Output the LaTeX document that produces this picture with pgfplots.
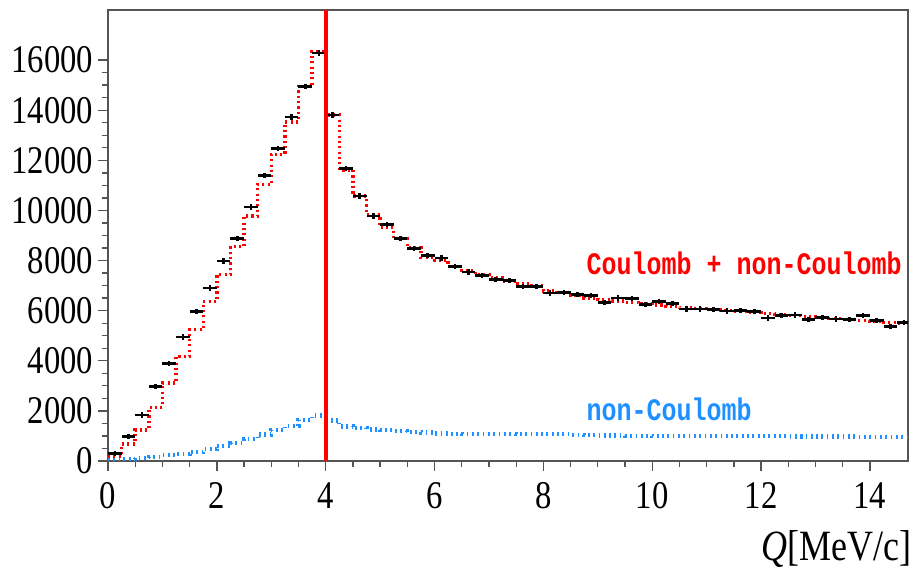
\documentclass[border=0pt]{standalone}
\usepackage{pgfplots}
\pgfplotsset{compat=1.18}
\usepackage{fontspec}
\setmainfont{Liberation Serif}
\newfontfamily\monob{Liberation Mono}
\usepackage{graphicx}
\definecolor{ncblue}{RGB}{30,144,255}
\definecolor{framegray}{RGB}{85,85,85}
\begin{document}
\begin{tikzpicture}
\path[use as bounding box] (-81pt,-81.75pt) rectangle (606pt,345.75pt);
\begin{axis}[
  at={(0,0)}, anchor=south west,
  scale only axis, width=600pt, height=338.25pt,
  xmin=0, xmax=14.7, ymin=0, ymax=18000,
  scaled y ticks=false, scaled x ticks=false,
  axis line style={framegray, line width=1.1pt},
  xtick={0,2,...,14}, ytick={0,2000,...,16000},
  minor x tick num=3, minor y tick num=3,
  tick align=outside, xtick pos=bottom, ytick pos=left,
  major tick length=7.5pt, minor tick length=4.5pt,
  tick style={framegray, line width=1pt},
  /pgf/number format/assume math mode=true,
  /pgf/number format/set thousands separator={},
  xticklabel={\scalebox{1}[1.2]{\pgfmathprintnumber{\tick}}},
  yticklabel={\scalebox{1}[1.2]{\pgfmathprintnumber{\tick}}},
  tick label style={font=\fontsize{24.5}{24.5}\selectfont},
  xticklabel style={yshift=-5pt},
]
% non-Coulomb (blue)
\addplot[ncblue, line width=3.2pt, dash pattern=on 1.3pt off 2.7pt, const plot mark left] coordinates {
(0,60) (0.25,80) (0.5,110) (0.75,170) (1.0,225) (1.25,270) (1.5,360) (1.75,465)
(2.0,600) (2.25,730) (2.5,870) (2.75,1060) (3.0,1240) (3.25,1410) (3.5,1640) (3.75,1820)
(4.0,1620) (4.25,1380) (4.5,1310) (4.75,1260) (5.0,1230) (5.25,1200) (5.5,1160) (5.75,1140)
(6.0,1100) (6.25,1085) (6.5,1080) (6.75,1080) (7.0,1080) (7.25,1080) (7.5,1075) (7.75,1075)
(8.0,1070) (8.25,1065) (8.5,1040) (8.75,1030) (9.0,1020) (9.25,1015) (9.5,1010) (9.75,1010)
(10.0,1005) (10.25,1000) (10.5,1000) (10.75,1000) (11.0,995) (11.25,995) (11.5,990) (11.75,990)
(12.0,985) (12.25,985) (12.5,980) (12.75,980) (13.0,975) (13.25,975) (13.5,975) (13.75,970)
(14.0,970) (14.25,970) (14.5,970) (14.75,970)
};
% Coulomb + non-Coulomb (red)
\addplot[red, line width=2.6pt, dash pattern=on 1.6pt off 2.4pt, const plot mark left] coordinates {
(0,170) (0.25,680) (0.5,1240) (0.75,2130) (1.0,3110) (1.25,4170) (1.5,5240) (1.75,6370)
(2.0,7440) (2.25,8570) (2.5,9770) (2.75,11040) (3.0,12240) (3.25,13530) (3.5,14950) (3.75,16330)
(4.0,13810) (4.25,11620) (4.5,10570) (4.75,9830) (5.0,9310) (5.25,8880) (5.5,8520) (5.75,8130)
(6.0,8010) (6.25,7770) (6.5,7610) (6.75,7450) (7.0,7320) (7.25,7180) (7.5,7070) (7.75,6990)
(8.0,6790) (8.25,6730) (8.5,6600) (8.75,6510) (9.0,6450) (9.25,6390) (9.5,6330) (9.75,6270)
(10.0,6220) (10.25,6170) (10.5,6120) (10.75,6080) (11.0,6040) (11.25,6000) (11.5,5960) (11.75,5920)
(12.0,5880) (12.25,5840) (12.5,5800) (12.75,5760) (13.0,5720) (13.25,5680) (13.5,5640) (13.75,5600)
(14.0,5560) (14.25,5520) (14.5,5480) (14.75,5480)
};
% data
\addplot[draw=none, mark=none,
  error bars/.cd, x dir=both, x fixed=0.125, y dir=both, y fixed=110,
  error mark=none, error bar style={draw=black, line width=1.9pt, solid}] coordinates {
(0.125,300) (0.375,970) (0.625,1840) (0.875,2970) (1.125,3890) (1.375,4950) (1.625,5960) (1.875,6910)
(2.125,7990) (2.375,8880) (2.625,10130) (2.875,11390) (3.125,12480) (3.375,13730) (3.625,14950) (3.875,16280)
(4.125,13810) (4.375,11670) (4.625,10570) (4.875,9770) (5.125,9430) (5.375,8880) (5.625,8480) (5.875,8200)
(6.125,8110) (6.375,7770) (6.625,7550) (6.875,7400) (7.125,7240) (7.375,7200) (7.625,6970) (7.875,6970)
(8.125,6710) (8.375,6730) (8.625,6640) (8.875,6610) (9.125,6330) (9.375,6510) (9.625,6480) (9.875,6240)
(10.125,6370) (10.375,6280) (10.625,6070) (10.875,6070) (11.125,6040) (11.375,5990) (11.625,6010) (11.875,5960)
(12.125,5710) (12.375,5800) (12.625,5830) (12.875,5640) (13.125,5720) (13.375,5670) (13.625,5640) (13.875,5800)
(14.125,5610) (14.375,5370) (14.625,5530)
};
% Q = 4 line
\addplot[red, line width=2.8pt] coordinates {(4,0) (4,18000)};
\node[anchor=base west, inner sep=0, text=red] at (axis cs:8.79,7440)
  {\monob\bfseries\fontsize{18.75}{20}\selectfont\scalebox{1}[1.25]{Coulomb + non-Coulomb}};
\node[anchor=base west, inner sep=0, text=ncblue] at (axis cs:8.79,1600)
  {\monob\bfseries\fontsize{18.75}{20}\selectfont\scalebox{1}[1.25]{non-Coulomb}};
\end{axis}
\node[anchor=base east, inner sep=0] at ([xshift=3pt,yshift=-75pt]current axis.south east)
  {\fontsize{27}{27}\selectfont\scalebox{1}[1.2]{\textit{Q}[MeV/c]}};
\end{tikzpicture}
\end{document}
